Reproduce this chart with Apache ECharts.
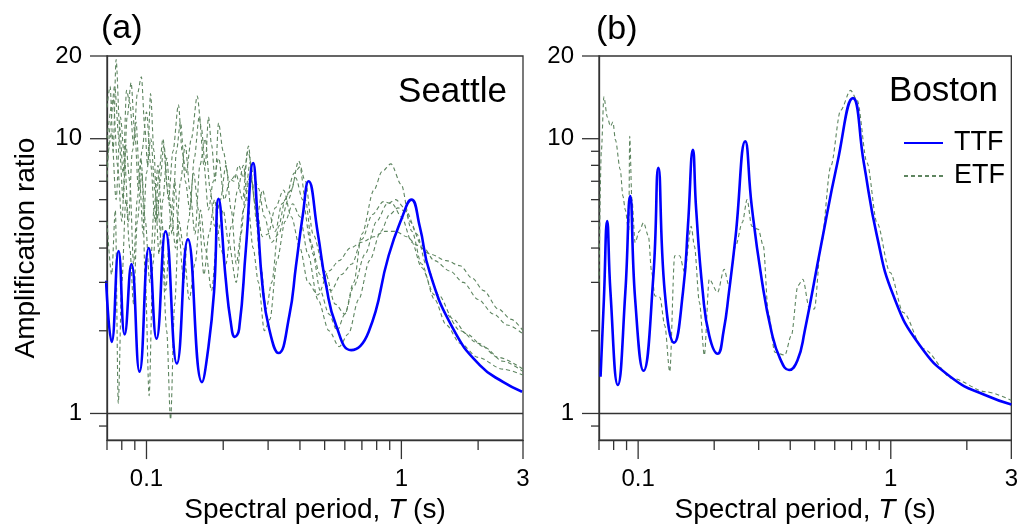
<!DOCTYPE html>
<html><head><meta charset="utf-8">
<script src="https://cdn.jsdelivr.net/npm/echarts@6/dist/echarts.min.js"></script>
<style>html,body{margin:0;padding:0;background:#fff}#c{width:1021px;height:529px}</style>
</head><body><div id="c"></div><script>
// ---------- axis ticks / labels ----------
const X_MIN = 0.07, X_MAX = 3, Y_MIN = 0.8, Y_MAX = 20;
const xMajorTicks = [0.1, 1, 3];
const xMinorTicks = [0.07, 0.08, 0.09, 0.2, 0.3, 0.4, 0.5, 0.6, 0.7, 0.8, 0.9, 2];
const yMajorTicks = [1, 10, 20];
const yMinorTicks = [0.9, 2, 3, 4, 5, 6, 7, 8, 9];
const xTickLabels = ['0.1', '1', '3'];
const yTickLabels = ['1', '10', '20'];

// ---------- (a) Seattle ----------
const ttfSeattle = [
 [0.0694,3.04],[0.0730,1.82],[0.0777,3.9],[0.0821,1.94],[0.0873,3.5],[0.0939,1.42],
 [0.1021,4.0],[0.1095,1.87],[0.1188,4.6],[0.1316,1.52],[0.1454,4.3],[0.1651,1.30],
 [0.1733,1.63],[0.1841,2.77],[0.1917,6.05],[0.2046,3.08],[0.2141,2.15],[0.2221,1.90],
 [0.2309,2.03],[0.2454,3.96],[0.2621,8.15],[0.2725,5.23],[0.2851,2.92],[0.3030,2.03],
 [0.3297,1.66],[0.3633,2.27],[0.3860,3.45],[0.4100,5.23],[0.4324,7.0],[0.4695,4.56],
 [0.5067,2.92],[0.5546,2.09],[0.6356,1.70],[0.7437,1.98],[0.8910,3.75],[1.000,5.09],
 [1.095,6.0],[1.180,4.8],[1.292,3.26],[1.597,2.03],[2.030,1.50],[2.512,1.30],[2.975,1.20]
];
const etfSeattle1 = [
 [0.0700,13.0],[0.0720,15.5],[0.0740,9.0],[0.0760,19.4],[0.0785,11.0],[0.0810,7.5],[0.0835,15.0],
 [0.0860,13.5],[0.0890,9.5],[0.0920,14.5],[0.0955,16.8],[0.0985,11.0],[0.1010,8.0],[0.1037,14.6],
 [0.1070,9.0],[0.1100,5.0],[0.1130,7.0],[0.1170,9.5],[0.1220,6.0],[0.1270,9.0],[0.1335,13.3],
 [0.1380,9.0],[0.1430,7.5],[0.1500,10.0],[0.1582,14.3],[0.1640,11.0],[0.1700,8.0],[0.1751,12.0],
 [0.1800,9.5],[0.1860,7.0],[0.1917,11.4],[0.2000,9.0],[0.2100,7.2],[0.2200,7.0],[0.2300,8.0],
 [0.2400,7.2],[0.2514,9.4],[0.2600,7.0],[0.2700,5.0],[0.2850,6.5],[0.3000,5.5],[0.3200,4.6],
 [0.3400,5.8],[0.3700,6.5],[0.3950,8.3],[0.4200,7.0],[0.4500,4.5],[0.5000,3.3],[0.5500,2.5],
 [0.6000,2.3],[0.6500,3.0],[0.7000,4.5],[0.7800,6.5],[0.8400,7.6],[0.9100,8.1],[1.000,6.8],
 [1.080,5.0],[1.200,4.1],[1.350,3.6],[1.550,3.3],[1.750,3.0],[2.000,2.6],[2.300,2.3],[2.600,2.1],[3.000,1.95]
];
const etfSeattle2 = [
 [0.0700,8.0],[0.0730,10.5],[0.0760,6.0],[0.0790,12.0],[0.0820,8.5],[0.0850,5.0],[0.0880,9.0],
 [0.0910,11.5],[0.0940,7.0],[0.0970,4.5],[0.1000,7.5],[0.1040,10.0],[0.1080,6.5],[0.1120,3.8],
 [0.1160,6.0],[0.1200,8.5],[0.1250,5.5],[0.1300,4.0],[0.1360,7.0],[0.1420,9.5],[0.1480,6.5],
 [0.1550,4.5],[0.1620,8.0],[0.1700,10.0],[0.1780,6.5],[0.1850,4.8],[0.1950,6.0],[0.2050,8.0],
 [0.2150,5.5],[0.2250,3.5],[0.2350,4.5],[0.2450,6.5],[0.2550,8.2],[0.2650,6.0],[0.2800,3.5],
 [0.2950,2.4],[0.3100,3.0],[0.3300,4.8],[0.3500,6.0],[0.3800,7.5],[0.4000,7.9],[0.4200,6.0],
 [0.4500,3.8],[0.4800,2.8],[0.5200,2.3],[0.5600,2.0],[0.6000,2.3],[0.6500,2.9],[0.7200,3.8],
 [0.8000,5.0],[0.8800,5.8],[0.9500,6.0],[1.030,5.6],[1.100,4.6],[1.200,3.5],[1.350,2.6],
 [1.500,2.1],[1.700,1.8],[2.000,1.6],[2.500,1.45],[3.000,1.38]
];
const etfSeattle3 = [
 [0.0700,5.0],[0.0730,3.2],[0.0755,5.5],[0.0775,1.09],[0.0800,3.0],[0.0830,6.0],[0.0860,4.0],
 [0.0890,2.5],[0.0920,5.0],[0.0960,7.5],[0.0990,3.0],[0.1024,1.16],[0.1060,3.5],[0.1100,6.0],
 [0.1150,4.0],[0.1200,2.0],[0.1243,0.95],[0.1290,2.5],[0.1340,5.0],[0.1400,4.0],[0.1470,2.6],
 [0.1550,3.5],[0.1630,5.5],[0.1700,4.0],[0.1800,2.8],[0.1900,4.5],[0.2000,5.5],[0.2100,4.2],
 [0.2250,3.0],[0.2400,5.5],[0.2550,7.3],[0.2700,5.5],[0.2850,4.4],[0.3000,4.5],[0.3200,5.6],
 [0.3450,6.5],[0.3700,5.2],[0.4000,4.0],[0.4300,3.0],[0.4700,2.7],[0.5200,3.3],[0.5700,3.6],
 [0.6300,4.0],[0.7000,4.2],[0.7800,4.4],[0.8600,4.6],[0.9500,4.6],[1.050,4.4],[1.150,4.1],
 [1.300,3.8],[1.500,3.6],[1.700,3.45],[1.900,3.1],[2.100,2.8],[2.400,2.4],[2.700,2.2],[3.000,2.0]
];
const etfSeattle4 = [
 [0.0700,10.0],[0.0740,14.0],[0.0770,8.0],[0.0800,5.0],[0.0830,9.5],[0.0860,7.0],[0.0890,3.5],
 [0.0920,6.0],[0.0950,8.5],[0.0990,5.0],[0.1030,3.0],[0.1070,5.5],[0.1110,8.0],[0.1150,5.0],
 [0.1190,2.8],[0.1240,5.0],[0.1290,7.0],[0.1340,4.5],[0.1400,3.0],[0.1460,5.0],[0.1530,7.5],
 [0.1600,5.5],[0.1680,3.2],[0.1760,4.5],[0.1850,6.0],[0.1950,4.0],[0.2050,3.5],[0.2150,4.8],
 [0.2280,6.5],[0.2400,8.0],[0.2500,5.8],[0.2620,4.0],[0.2750,3.0],[0.2900,2.0],[0.3050,2.2],
 [0.3250,3.6],[0.3500,5.0],[0.3750,5.8],[0.4000,5.2],[0.4300,3.8],[0.4700,2.6],[0.5200,2.0],
 [0.5700,1.75],[0.6200,1.95],[0.6800,2.6],[0.7500,3.6],[0.8300,4.6],[0.9000,5.3],[0.9700,5.6],
 [1.050,5.4],[1.150,4.5],[1.250,3.5],[1.400,2.7],[1.600,2.2],[1.800,1.95],[2.100,1.75],[2.500,1.55],[3.000,1.42]
];
const etfSeattle5 = [
 [0.0700,7.0],[0.0720,11.0],[0.0750,15.5],[0.0780,10.0],[0.0810,6.0],[0.0840,12.0],[0.0870,16.0],
 [0.0900,10.5],[0.0930,6.5],[0.0960,9.0],[0.1000,12.5],[0.1040,8.0],[0.1080,5.0],[0.1120,7.5],
 [0.1160,10.0],[0.1210,6.5],[0.1260,4.5],[0.1310,9.0],[0.1360,11.5],[0.1420,7.0],[0.1480,5.5],
 [0.1540,8.5],[0.1610,12.0],[0.1680,8.0],[0.1750,5.5],[0.1830,7.0],[0.1920,8.5],[0.2020,6.0],
 [0.2120,7.0],[0.2250,7.4],[0.2380,6.0],[0.2500,9.0],[0.2620,7.5],[0.2750,6.6],[0.2900,5.2],
 [0.3100,4.2],[0.3300,4.5],[0.3600,6.0],[0.3850,7.2],[0.4100,6.0],[0.4400,4.2],[0.4800,3.2],
 [0.5300,2.8],[0.5800,3.2],[0.6400,3.5],[0.7000,4.3],[0.7700,5.3],[0.8500,5.9],[0.9200,5.8],
 [1.000,5.2],[1.100,4.2],[1.200,3.4],[1.350,2.7],[1.500,2.3],[1.700,2.0],[2.000,1.8],[2.400,1.6],[3.000,1.45]
];

// ---------- (b) Boston ----------
const ttfBoston = [
 [0.0710,1.36],[0.0732,2.61],[0.0754,5.02],[0.0777,2.77],[0.0831,1.27],[0.0890,2.77],[0.0930,6.18],
 [0.0973,2.61],[0.1050,1.43],[0.1149,3.17],[0.1202,7.83],[0.1275,2.76],[0.1388,1.81],[0.1505,2.77],
 [0.1574,4.8],[0.1647,9.12],[0.1697,5.53],[0.1802,2.77],[0.1912,1.92],[0.2063,1.65],[0.2180,2.0],
 [0.2289,2.77],[0.2432,4.43],[0.2654,9.78],[0.2816,5.68],[0.3083,3.08],[0.3373,1.98],[0.3650,1.58],
 [0.3956,1.44],[0.4270,1.56],[0.4556,1.98],[0.5290,4.07],[0.6147,8.17],[0.7083,14.05],[0.7820,8.17],
 [0.8815,4.43],[1.025,2.68],[1.302,1.77],[1.759,1.34],[2.373,1.165],[3.0,1.078]
];
const etfBoston = [
 [0.0700,3.0],[0.0715,9.0],[0.0732,14.2],[0.0755,12.0],[0.0777,11.1],[0.0795,11.5],[0.0813,9.9],
 [0.0850,7.7],[0.0870,6.2],[0.0890,5.5],[0.0918,4.55],[0.0926,10.2],[0.0945,6.0],[0.0973,4.19],
 [0.1010,4.6],[0.1050,4.95],[0.1098,4.43],[0.1131,3.27],[0.1165,2.68],[0.1219,2.65],[0.1275,2.09],
 [0.1334,1.42],[0.1395,3.75],[0.1460,3.75],[0.1527,3.27],[0.1622,4.8],[0.1670,4.07],[0.1748,2.54],
 [0.1828,1.63],[0.1912,3.08],[0.2063,2.76],[0.2189,3.35],[0.2289,2.92],[0.2432,4.07],[0.2584,4.95],
 [0.2700,6.0],[0.2816,4.8],[0.2991,4.68],[0.3130,4.07],[0.3274,2.33],[0.3477,1.67],[0.3805,1.63],
 [0.4040,1.92],[0.4290,2.92],[0.4486,3.08],[0.4766,2.40],[0.4984,2.40],[0.5290,4.07],[0.5790,7.94],
 [0.6334,12.7],[0.6931,15.0],[0.7362,13.8],[0.8056,8.17],[0.8815,4.95],[0.9938,3.26],[1.121,2.33],
 [1.342,1.72],[1.759,1.34],[2.373,1.20],[3.0,1.117]
];

// ---------- styling ----------
const FONT = "'Liberation Sans', Arial, Helvetica, sans-serif";
const AX = '#333333';
const BLUE = '#0000ff';
const GREEN = '#5e8560';

function tickData() {
  const d = [];
  xMinorTicks.forEach(v => d.push([v, Y_MIN, 0, 10]));
  xMajorTicks.forEach(v => d.push([v, Y_MIN, 0, 19]));
  yMinorTicks.forEach(v => d.push([X_MIN, v, 1, 8]));
  yMajorTicks.forEach(v => d.push([X_MIN, v, 1, 17]));
  return d;
}
function tickSeries(i) {
  return {
    type: 'custom', xAxisIndex: i, yAxisIndex: i, silent: true, clip: false, z: 6,
    data: tickData(),
    renderItem(params, api) {
      const p = api.coord([api.value(0), api.value(1)]);
      const kind = api.value(2), len = api.value(3);
      const shape = kind === 0
        ? { x1: p[0], y1: p[1], x2: p[0], y2: p[1] + len }
        : { x1: p[0] - len, y1: p[1], x2: p[0], y2: p[1] };
      return { type: 'line', shape, style: { stroke: AX, lineWidth: 1.3 } };
    }
  };
}
function fmt(labels) {
  return v => { const r = String(+(+v).toPrecision(3)); return labels.includes(r) ? r : ''; };
}
function xAxis(i) {
  return {
    type: 'log', logBase: 10, gridIndex: i, min: X_MIN, max: X_MAX,
    axisLine: { show: true, lineStyle: { color: AX, width: 1.3 } },
    axisTick: { show: false }, splitLine: { show: false }, minorTick: { show: false },
    axisLabel: { formatter: fmt(xTickLabels), color: '#000', fontSize: 24, fontFamily: FONT, margin: 27, showMinLabel: true, showMaxLabel: true },
    name: '{a|Spectral period, }{b|T}{a| (s)}', nameLocation: 'middle', nameGap: 51,
    nameTextStyle: { rich: {
      a: { fontSize: 28, fontFamily: FONT, color: '#000' },
      b: { fontSize: 28, fontFamily: FONT, color: '#000', fontStyle: 'italic' } } }
  };
}
function yAxis(i, name) {
  return {
    type: 'log', logBase: 10, gridIndex: i, min: Y_MIN, max: Y_MAX,
    axisLine: { show: true, lineStyle: { color: AX, width: 1.3 } },
    axisTick: { show: false }, splitLine: { show: false }, minorTick: { show: false },
    axisLabel: { formatter: fmt(yTickLabels), color: '#000', fontSize: 24, fontFamily: FONT, margin: 25 },
    name: name, nameLocation: 'middle', nameGap: 67,
    nameTextStyle: { fontSize: 28, fontFamily: FONT, color: '#000' }
  };
}
function ttf(i, data) {
  return {
    type: 'line', name: 'TTF', xAxisIndex: i, yAxisIndex: i, data, showSymbol: false, symbol: 'none',
    smooth: 0.5, z: 4,
    lineStyle: { color: BLUE, width: 2.6 }, itemStyle: { color: BLUE },
    markLine: { silent: true, symbol: ['none', 'none'], label: { show: false },
      lineStyle: { color: AX, type: 'solid', width: 1.3 }, data: [{ yAxis: 1 }] }
  };
}
function etf(i, data) {
  return {
    type: 'line', name: 'ETF', xAxisIndex: i, yAxisIndex: i, data, showSymbol: false, symbol: 'none',
    smooth: 0.3, smoothMonotone: 'x', z: 3,
    lineStyle: { color: GREEN, width: 1.1, type: [4, 3] }, itemStyle: { color: GREEN }
  };
}

const chart = echarts.init(document.getElementById('c'), null, { renderer: 'canvas' });
chart.setOption({
  animation: false,
  backgroundColor: '#fff',
  grid: [
    { left: 107, top: 56, width: 416, height: 386, show: true, borderColor: AX, borderWidth: 1.3, backgroundColor: 'transparent' },
    { left: 599, top: 56, width: 418, height: 386, show: true, borderColor: AX, borderWidth: 1.3, backgroundColor: 'transparent' }
  ],
  xAxis: [xAxis(0), xAxis(1)],
  yAxis: [yAxis(0, 'Amplification ratio'), yAxis(1, '')],
  legend: {
    data: ['TTF', 'ETF'], orient: 'vertical', left: 898, top: 123, itemWidth: 39, itemHeight: 14, itemGap: 3,
    selectedMode: false, itemStyle: { opacity: 0, borderWidth: 0 },
    textStyle: { fontSize: 27, fontFamily: FONT, color: '#000', lineHeight: 30, padding: [0, 0, 0, 6] }
  },
  graphic: [
    { type: 'text', style: { x: 101, y: 29, text: '(a)', fontSize: 34, fontFamily: FONT, fill: '#000', verticalAlign: 'middle', align: 'left' } },
    { type: 'text', style: { x: 596, y: 30, text: '(b)', fontSize: 34, fontFamily: FONT, fill: '#000', verticalAlign: 'middle', align: 'left' } },
    { type: 'text', style: { x: 507, y: 92, text: 'Seattle', fontSize: 35, fontFamily: FONT, fill: '#000', verticalAlign: 'middle', align: 'right' } },
    { type: 'text', style: { x: 998, y: 91, text: 'Boston', fontSize: 35, fontFamily: FONT, fill: '#000', verticalAlign: 'middle', align: 'right' } }
  ],
  series: [
    etf(0, etfSeattle1), etf(0, etfSeattle2), etf(0, etfSeattle3), etf(0, etfSeattle4), etf(0, etfSeattle5),
    ttf(0, ttfSeattle),
    etf(1, etfBoston), ttf(1, ttfBoston),
    tickSeries(0), tickSeries(1)
  ]
});
</script></body></html>
